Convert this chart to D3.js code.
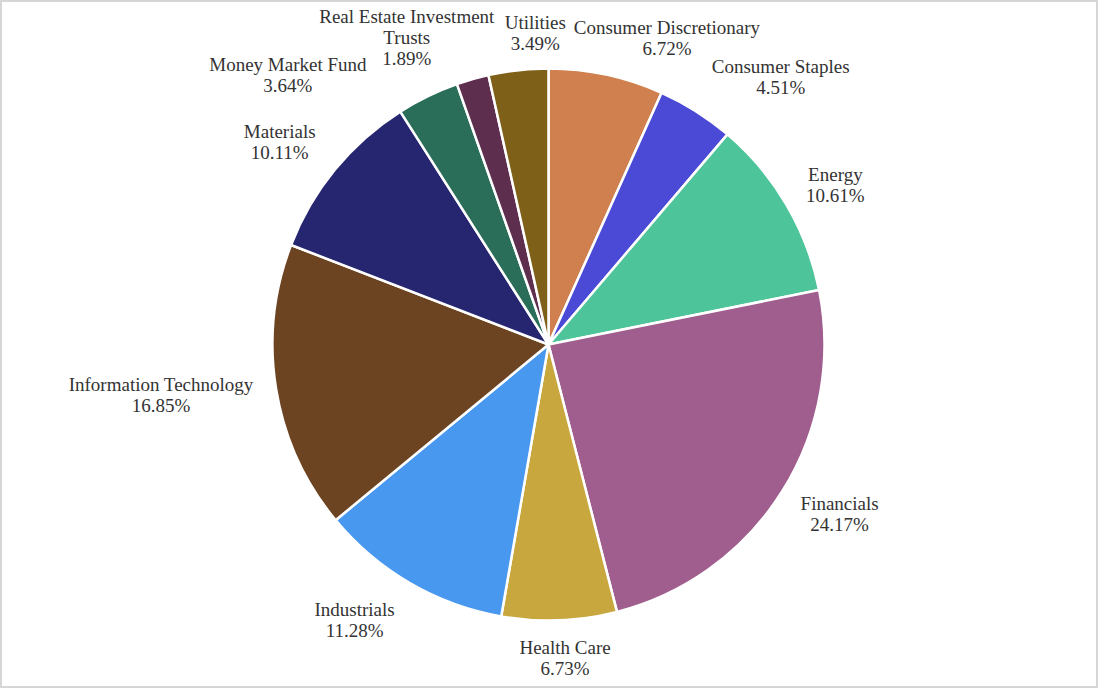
<!DOCTYPE html>
<html>
<head>
<meta charset="utf-8">
<script src="https://cdn.jsdelivr.net/npm/d3@7"></script>
<style>
  html, body { margin: 0; padding: 0; background: #fff; }
  svg { display: block; }
</style>
</head>
<body>
<svg id="chart" width="1098" height="688"></svg>
<script>
// ---- data ----
const categories = [
  "Consumer Discretionary",
  "Consumer Staples",
  "Energy",
  "Financials",
  "Health Care",
  "Industrials",
  "Information Technology",
  "Materials",
  "Money Market Fund",
  "Real Estate Investment\nTrusts",
  "Utilities"
];
const values = [6.72, 4.51, 10.61, 24.17, 6.73, 11.28, 16.85, 10.11, 3.64, 1.89, 3.49];
const colors = [
  "#d0804e", "#4a4ad6", "#4ec49a", "#a05e8e", "#c8a83e", "#4898f0",
  "#6c4422", "#262670", "#2a6e5a", "#5e2e4e", "#7e6018"
];

// ---- layout constants (not data) ----
const W = 1098, H = 688;
const cx = 548.5, cy = 344.5, radius = 276;
const labelR = 300, fontSize = 19, lineH = 21;
// small per-label nudges to mimic the reference's overlap-avoiding label placement
const labelNudge = [
  [36, 8], [35, 4], [3, 4], [4, -1], [3, -7], [-23, -2],
  [0, -1], [-9, 1], [-95, 19], [-35, 12], [23, 8]
];

const svg = d3.select("#chart");

// border
svg.append("rect")
  .attr("x", 1).attr("y", 1).attr("width", W - 2).attr("height", H - 2)
  .attr("fill", "#fff").attr("stroke", "#d6d6d6").attr("stroke-width", 2);

const data = categories.map((c, i) => ({ name: c, value: values[i], color: colors[i], i }));

const pie = d3.pie().value(d => d.value).sort(null);
const arcs = pie(data);
const arc = d3.arc().innerRadius(0).outerRadius(radius);

const g = svg.append("g").attr("transform", `translate(${cx},${cy})`);

g.selectAll("path.slice")
  .data(arcs)
  .join("path")
  .attr("class", "slice")
  .attr("d", arc)
  .attr("fill", d => d.data.color)
  .attr("stroke", "#ffffff")
  .attr("stroke-width", 2.5)
  .attr("stroke-linejoin", "round");

const fmt = d3.format(".2f");
const labels = svg.append("g")
  .attr("font-family", "'Liberation Serif', 'Times New Roman', serif")
  .attr("font-size", fontSize)
  .attr("fill", "#333333");

arcs.forEach((a, k) => {
  const lines = a.data.name.split("\n").concat([fmt(a.data.value) + "%"]);
  const t = labels.append("text").attr("text-anchor", "middle");
  lines.forEach((ln, j) => {
    t.append("tspan").attr("x", 0).attr("y", j * lineH).text(ln);
  });
  const bb = t.node().getBBox();
  const w = bb.width, h = lines.length * lineH;
  const mid = (a.startAngle + a.endAngle) / 2;
  const s = Math.sin(mid), c = Math.cos(mid);
  const nx = labelNudge[k][0], ny = labelNudge[k][1];
  const bx = cx + labelR * s + (w / 2) * s + nx;
  const by = cy - labelR * c - (h / 2) * c + ny;
  const firstBaseline = by - h / 2 + lineH / 2 + fontSize * 0.33;
  t.attr("transform", `translate(${bx},${firstBaseline})`);
});
</script>
</body>
</html>
